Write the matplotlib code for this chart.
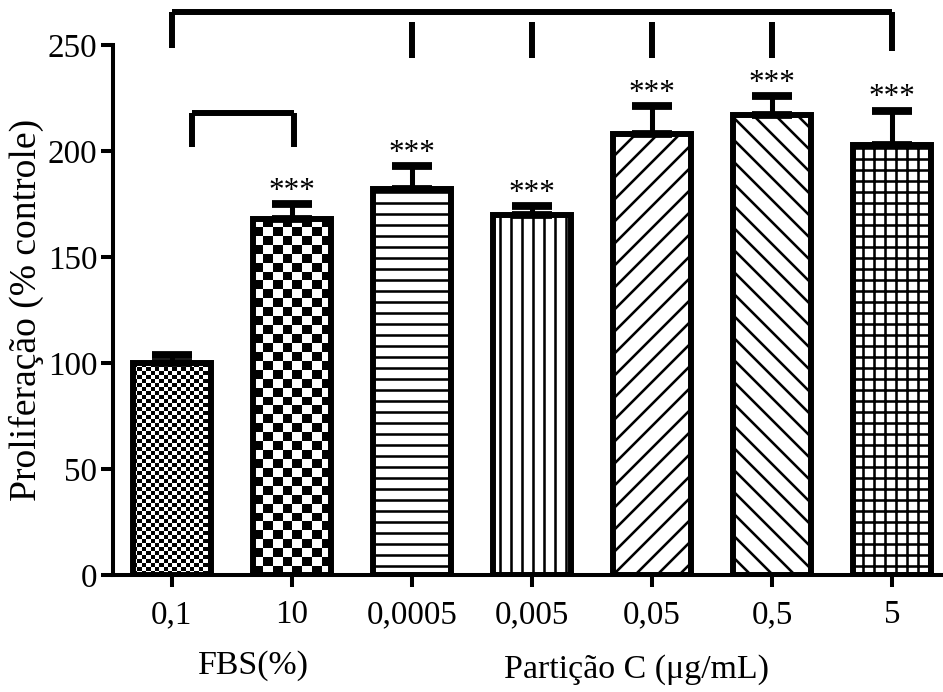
import numpy as np
import matplotlib
matplotlib.use('Agg')
import matplotlib.pyplot as plt

# Dados do gráfico
categorias = ['0,1', '10', '0,0005', '0,005', '0,05', '0,5', '5']
valores = [100, 168, 182, 170, 208, 217, 203]
erros = [4, 7, 11, 4, 13, 9, 16]
estrelas = ['', '***', '***', '***', '***', '***', '***']
hachuras = ['checker_fino', 'checker', '-', '|', '/', '\\', '+']

DPI = 66
plt.rcParams['font.family'] = ['Liberation Serif', 'DejaVu Serif']
plt.rcParams['hatch.linewidth'] = 2.8
plt.rcParams['hatch.color'] = 'black'

fig = plt.figure(figsize=(943 / DPI, 692 / DPI), dpi=DPI)
ax = fig.add_axes([113 / 943, 117 / 692, 830 / 943, 530 / 692])

x = np.arange(len(valores))
largura = 0.65
lw_borda = 6.5

# Barras (fundo branco)
for xi, v, h in zip(x, valores, hachuras):
    if h.startswith('checker'):
        barra = ax.bar(xi, v, largura, color='white', edgecolor='none', zorder=1)[0]
        # padrão xadrez desenhado como imagem recortada pela barra
        cel = 4 if h == 'checker_fino' else 9   # tamanho da célula em px
        ncol = int(round(72 / cel))
        nlin = int(round(v * 2.12 / cel))
        tab = (np.add.outer(np.arange(nlin), np.arange(ncol)) % 2).astype(float)
        img = ax.imshow(tab, cmap='gray', extent=[xi - largura / 2, xi + largura / 2, 0, v],
                        aspect='auto', interpolation='nearest', zorder=1.5, origin='lower')
        img.set_clip_path(barra)
    else:
        ax.bar(xi, v, largura, color='white', edgecolor='black', hatch=h,
               linewidth=0, zorder=1)

# Contornos das barras
ax.bar(x, valores, largura, fill=False, edgecolor='black', linewidth=lw_borda, zorder=2)

# Barras de erro (só para cima)
ax.errorbar(x, valores, yerr=[np.zeros(len(erros)), erros], fmt='none', ecolor='black',
            elinewidth=5.5, capsize=22, capthick=8.5, zorder=3)

# Asteriscos
for xi, v, e, s in zip(x, valores, erros, estrelas):
    if s:
        ax.text(xi, v + e + 2.5, s, ha='center', va='baseline', fontsize=34, zorder=4)

# Colchete superior
kw = dict(color='black', linewidth=6.5, solid_capstyle='butt', clip_on=False, zorder=4)
ax.plot([0, 6], [265.5, 265.5], **kw)
ax.plot([0, 0], [265.5, 248.5], **kw)
ax.plot([6, 6], [265.5, 247], **kw)
for xi in [2, 3, 4, 5]:
    ax.plot([xi, xi], [261, 244], **kw)

# Colchete pequeno FBS
ax.plot([0.17, 1.02], [218, 218], **kw)
ax.plot([0.17, 0.17], [218, 202], **kw)
ax.plot([1.02, 1.02], [218, 202], **kw)

# Eixos
ax.set_xlim(-0.49, 6.425)
ax.set_ylim(0, 250)
ax.set_yticks([0, 50, 100, 150, 200, 250])
ax.set_xticks(x)
ax.set_xticklabels(categorias)
for lado in ['top', 'right']:
    ax.spines[lado].set_visible(False)
for lado in ['left', 'bottom']:
    ax.spines[lado].set_linewidth(4.4)
ax.tick_params(axis='both', width=4.4, length=13, labelsize=36, pad=4)
ax.tick_params(axis='x', pad=14)

ax.set_ylabel('Proliferação (% controle)', fontsize=41, labelpad=4)
fig.text(253 / 943, 1 - 666 / 692, 'FBS(%)', ha='center', va='center', fontsize=37)
fig.text(637 / 943, 1 - 670 / 692, 'Partição C (μg/mL)', ha='center', va='center', fontsize=37)

fig.savefig('out.png', dpi=DPI)
